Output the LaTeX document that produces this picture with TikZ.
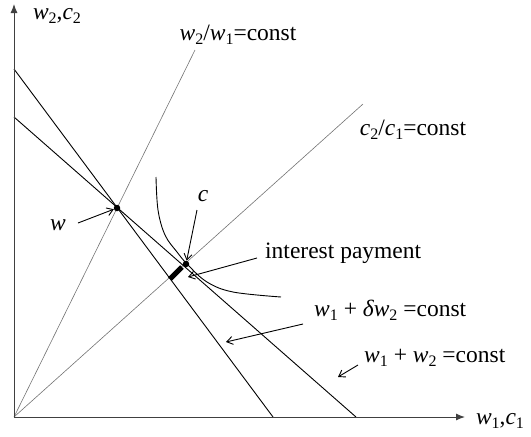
\documentclass[tikz,border=0pt]{standalone}
\usepackage{fontspec}
\setmainfont{Liberation Serif}
\usetikzlibrary{arrows.meta}
\newcommand\sbs[1]{\raisebox{-0.4ex}{\fontsize{16}{16}\selectfont #1}}
\newcommand\iv[1]{\textit{#1}}
\tikzset{
  lbl/.style={font=\fontsize{23.5}{27}\selectfont, inner sep=0pt},
  axis/.style={draw=black!75, line width=1pt, -{Latex[length=9pt,width=7pt]}},
  budget/.style={draw=black, line width=0.9pt},
  ray/.style={draw=black!55, line width=0.6pt},
  pointer/.style={draw=black, line width=0.9pt, -{Straight Barb[length=6pt,width=8pt]}},
  dot/.style={circle, fill=black, inner sep=0pt, minimum size=6.5pt}
}
\begin{document}
\begin{tikzpicture}[x=1pt,y=-1pt]
\useasboundingbox (0,0) rectangle (531,437);
\coordinate (O) at (14,417);
\coordinate (Ytop) at (14,4);
\coordinate (Xend) at (465,417);
% budget lines
\coordinate (L1a) at (14,69);
\coordinate (L1b) at (273,417);
\coordinate (L2a) at (14,117);
\coordinate (L2b) at (356,417);
% rays
\coordinate (R1) at (195,50);
\coordinate (R2) at (363,104);
% bar
\coordinate (Ba) at (170,279);
\coordinate (Bb) at (182,267);

\draw[ray] (O) -- (R1);
\draw[ray] (O) -- (R2);
\draw[budget] (L1a) -- (L1b);
\draw[budget] (L2a) -- (L2b);
\draw[axis] (O) -- (Ytop);
\draw[axis] (O) -- (Xend);

% indifference curve
\draw[black, line width=0.9pt] plot[smooth, tension=0.6] coordinates
  {(156,177) (158,210) (165,235) (177,252) (188,265) (207,282) (233,292) (281,297)};

% interest payment bar
\draw[black, line width=5pt] (Ba) -- (Bb);

\node[dot] (w) at (117,208) {};
\node[dot] (c) at (186,264) {};

% labels
\node[lbl] (ylab) at (57,16) {\iv{w}\sbs{2},\iv{c}\sbs{2}};
\node[lbl] (xlab) at (500,421) {\iv{w}\sbs{1},\iv{c}\sbs{1}};
\node[lbl] (r1lab) at (238,35) {\iv{w}\sbs{2}/\iv{w}\sbs{1}=const};
\node[lbl] (r2lab) at (413,130) {\iv{c}\sbs{2}/\iv{c}\sbs{1}=const};
\node[lbl] (wlab) at (58,225) {\iv{w}};
\node[lbl] (clab) at (203,196) {\iv{c}};
\node[lbl, anchor=west] (iplab) at (265,253) {interest payment};
\node[lbl, anchor=west] (dlab) at (314,310) {\iv{w}\sbs{1} + \iv{δw}\sbs{2} =const};
\node[lbl, anchor=west] (slab) at (364,358) {\iv{w}\sbs{1} + \iv{w}\sbs{2} =const};

% pointers
\coordinate (wp) at (78,223);
\coordinate (cp) at (197,210);
\coordinate (ipp) at (257,258);
\coordinate (ipt) at (188,277);
\coordinate (dp) at (303,324);
\coordinate (dt) at (226,342);
\coordinate (sp) at (358,365);
\coordinate (st) at (338,377);
\draw[pointer] (wp) -- (w);
\draw[pointer] (cp) -- (c);
\draw[pointer] (ipp) -- (ipt);
\draw[pointer] (dp) -- (dt);
\draw[pointer] (sp) -- (st);
\end{tikzpicture}
\end{document}
